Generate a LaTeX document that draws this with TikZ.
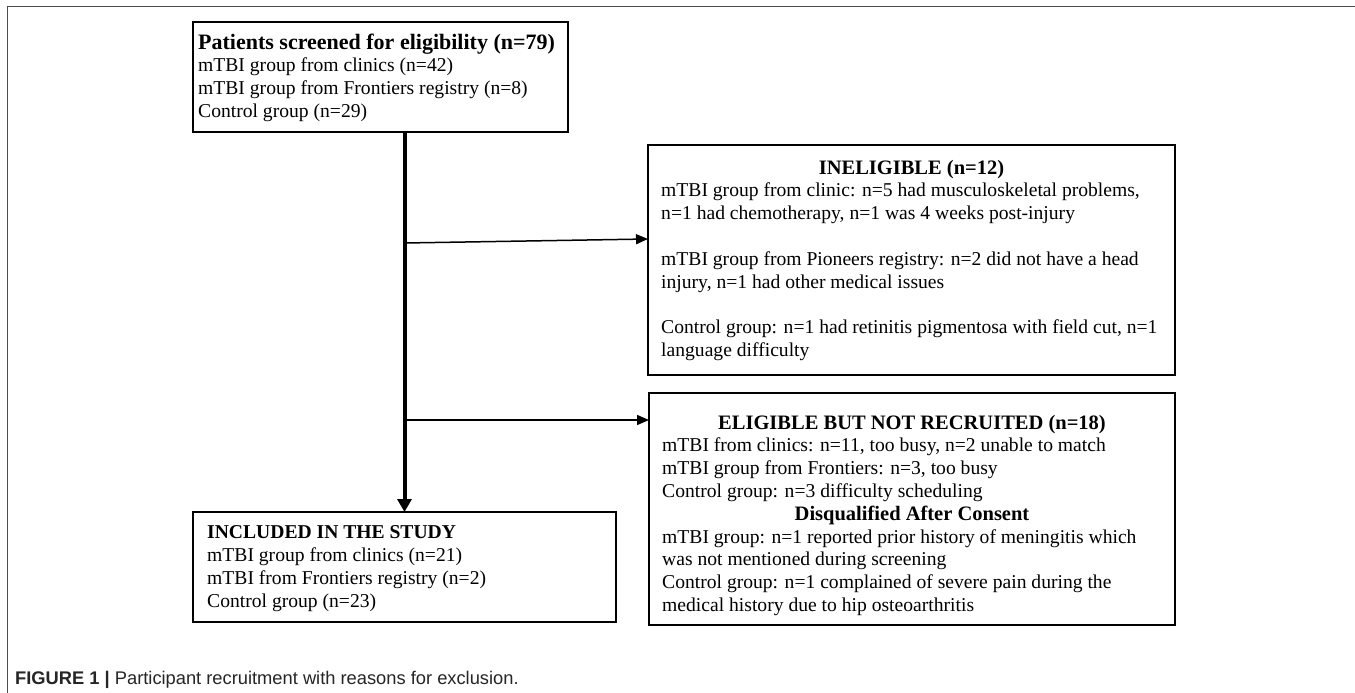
\documentclass[tikz,border=0pt]{standalone}
\usepackage{fontspec}
\setmainfont{Liberation Serif}
\newfontfamily\capfont{Liberation Sans}
\usetikzlibrary{arrows.meta}
\begin{document}
\begin{tikzpicture}[x=1pt,y=-1pt,
  box/.style={draw=black, line width=1.4pt, rectangle, inner sep=0pt, outer sep=0pt, anchor=north west},
  txt/.style={anchor=base west, inner sep=0pt, font=\fontsize{19.6pt}{22.8pt}\selectfont},
  ttl/.style={anchor=base, inner sep=0pt, font=\fontsize{20.5pt}{22.8pt}\selectfont\bfseries},
  conn/.style={line width=1.5pt, -{Triangle[length=12pt,width=10pt]}},
  trunk/.style={line width=4pt, -{Triangle[length=13pt,width=14pt]}},
  frame/.style={draw=black!70, line width=1.5pt}]
\useasboundingbox (0,0) rectangle (1355,693);
\fill[white] (0,0) rectangle (1355,693);
\draw[frame] (7.5,693) -- (7.5,6.5) -- (1355,6.5);

% boxes
\node[box, minimum width=375pt, minimum height=110pt] (b1) at (193,22) {};
\node[box, minimum width=527pt, minimum height=230pt] (b2) at (648,145) {};
\node[box, minimum width=526pt, minimum height=232pt] (b3) at (649,393) {};
\node[box, minimum width=423pt, minimum height=110pt] (b4) at (193,512) {};

% box 1 text
\node[txt, font=\fontsize{22pt}{22.8pt}\selectfont\bfseries] (t11) at (198,49.5) {Patients screened for eligibility (n=79)};
\node[txt] (t12) at (198,71.6) {mTBI group from clinics (n=42)};
\node[txt] (t13) at (198,94.4) {mTBI group from Frontiers registry (n=8)};
\node[txt] (t14) at (198,117.2) {Control group (n=29)};

% box 2 text
\node[ttl] (t21) at (911.5,174) {INELIGIBLE (n=12)};
\node[txt] (t22) at (661,196.8) {mTBI group from clinic: n=5 had musculoskeletal problems,};
\node[txt] (t23) at (661,219.6) {n=1 had chemotherapy, n=1 was 4 weeks post-injury};
\node[txt] (t24) at (661,265.2) {mTBI group from Pioneers registry: n=2 did not have a head};
\node[txt] (t25) at (661,288) {injury, n=1 had other medical issues};
\node[txt] (t26) at (661,333.6) {Control group: n=1 had retinitis pigmentosa with field cut, n=1};
\node[txt] (t27) at (661,356.4) {language difficulty};

% box 3 text
\node[ttl] (t31) at (912,429) {ELIGIBLE BUT NOT RECRUITED (n=18)};
\node[txt] (t32) at (662,451.8) {mTBI from clinics: n=11, too busy, n=2 unable to match};
\node[txt] (t33) at (662,474.6) {mTBI group from Frontiers: n=3, too busy};
\node[txt] (t34) at (662,497.4) {Control group: n=3 difficulty scheduling};
\node[ttl] (t35) at (912,520.2) {Disqualified After Consent};
\node[txt] (t36) at (662,543) {mTBI group: n=1 reported prior history of meningitis which};
\node[txt] (t37) at (662,565.8) {was not mentioned during screening};
\node[txt] (t38) at (662,588.6) {Control group: n=1 complained of severe pain during the};
\node[txt] (t39) at (662,611.4) {medical history due to hip osteoarthritis};

% box 4 text
\node[txt, font=\fontsize{19.6pt}{22.8pt}\selectfont\bfseries] (t41) at (207,538.8) {INCLUDED IN THE STUDY};
\node[txt] (t42) at (207,561.6) {mTBI group from clinics (n=21)};
\node[txt] (t43) at (207,584.4) {mTBI from Frontiers registry (n=2)};
\node[txt] (t44) at (207,607.2) {Control group (n=23)};

% connectors
\coordinate (j1) at (404.5,243);
\coordinate (j2) at (404.5,420);
\draw[conn] (j1) -- ([yshift=21pt]b2.west);
\draw[conn] (j2) -- ([yshift=89pt]b3.west);
\draw[trunk] (b1.south -| b4.north) -- (b4.north);

% caption
\node[anchor=base west, inner sep=0pt, text=black!85, font=\capfont\fontsize{18.3pt}{22pt}\selectfont] (cap) at (15,684) {\textbf{FIGURE 1 |} Participant recruitment with reasons for exclusion.};
\end{tikzpicture}
\end{document}
